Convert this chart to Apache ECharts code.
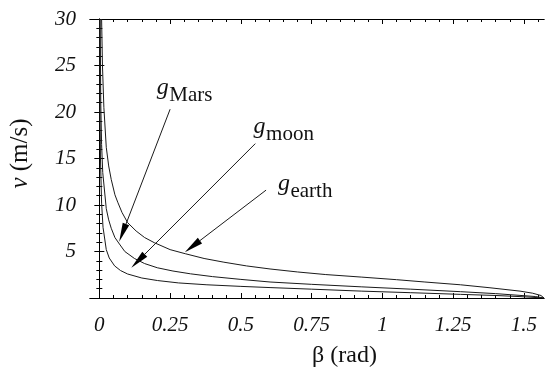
<!DOCTYPE html>
<html>
<head>
<meta charset="utf-8">
<script src="https://cdn.jsdelivr.net/npm/echarts@6/dist/echarts.min.js"></script>
<style>
  html, body { margin: 0; padding: 0; background: #fff; }
  #chart { width: 547px; height: 373px; }
</style>
</head>
<body>
<div id="chart"></div>
<script>
// curves: [beta (rad), v (m/s)]
const gEarth = [
  [0.008, 30], [0.011, 25], [0.016, 20.5], [0.0245, 16.2], [0.033, 14.2], [0.042, 12.75],
  [0.055, 11.1], [0.065, 10.3], [0.08, 9.2], [0.1, 8.1], [0.13, 7.2], [0.16, 6.5],
  [0.194, 5.95], [0.25, 5.2], [0.305, 4.75], [0.37, 4.25], [0.44, 3.85], [0.52, 3.45],
  [0.603, 3.12], [0.7, 2.8], [0.8, 2.52], [0.925, 2.25], [1.05, 1.97], [1.15, 1.72],
  [1.276, 1.42], [1.38, 1.1], [1.486, 0.74], [1.53, 0.52], [1.56, 0.27], [1.5708, 0]
];
const gMars = [
  [0.003, 30], [0.005, 21], [0.008, 16.5], [0.012, 13.5], [0.0245, 9.6], [0.033, 8.4],
  [0.042, 7.5], [0.055, 6.5], [0.071, 5.8], [0.09, 5.0], [0.124, 4.25], [0.16, 3.7],
  [0.205, 3.25], [0.26, 2.9], [0.322, 2.6], [0.4, 2.3], [0.5, 2.0], [0.603, 1.72],
  [0.75, 1.47], [0.925, 1.2], [1.1, 0.95], [1.276, 0.68], [1.4, 0.47], [1.486, 0.28],
  [1.54, 0.16], [1.5708, 0]
];
const gMoon = [
  [0.0012, 30], [0.002, 21], [0.004, 15], [0.008, 10.2], [0.013, 7.6], [0.0245, 5.2],
  [0.035, 4.3], [0.054, 3.45], [0.075, 2.95], [0.1, 2.58], [0.15, 2.15], [0.205, 1.88],
  [0.28, 1.62], [0.38, 1.42], [0.5, 1.25], [0.603, 1.12], [0.75, 0.95], [0.925, 0.74],
  [1.1, 0.57], [1.276, 0.39], [1.4, 0.27], [1.486, 0.15], [1.5708, 0]
];

// axis ticks
const xMajor = [0, 0.25, 0.5, 0.75, 1, 1.25, 1.5];
const xMinor = [];
for (let k = 0; k <= 31; k++) { if (k % 5 !== 0) xMinor.push(+(k * 0.05).toFixed(2)); }

// annotations (data coords)
const labelSub = ['Mars', 'moon', 'earth'];
const labelAt = [[0.203, 22.65], [0.545, 18.4], [0.631, 12.3]];
const arrowFrom = [[0.25, 20.3], [0.551, 16.6], [0.589, 11.6]];
const arrowTo = [[0.070, 6.04], [0.113, 3.26], [0.302, 4.93]];

const serif = "'Liberation Serif', 'DejaVu Serif', serif";
const xMin = -0.033, xMax = 1.5708;

const chart = echarts.init(document.getElementById('chart'));

function xAx(pos, ticks, len, extra) {
  return Object.assign({
    type: 'value', position: pos, min: xMin, max: xMax,
    axisLine: { show: true, lineStyle: { color: '#000', width: 1 } },
    axisTick: { show: true, inside: true, length: len, customValues: ticks, lineStyle: { color: '#000' } },
    axisLabel: { show: false },
    splitLine: { show: false }
  }, extra || {});
}
function yAx(pos, showLabel) {
  return {
    type: 'value', position: pos, min: 0, max: 30, interval: 5,
    axisLine: { show: true, lineStyle: { color: '#000', width: 1 } },
    axisTick: { show: true, inside: true, length: 5, lineStyle: { color: '#000' } },
    minorTick: { show: true, splitNumber: 5, length: 3, lineStyle: { color: '#000' } },
    axisLabel: {
      show: showLabel, margin: 14, fontFamily: serif, fontStyle: 'italic', fontSize: 21, color: '#111',
      formatter: v => (v === 0 ? '' : String(v))
    },
    splitLine: { show: false },
    name: showLabel ? '{i|v} (m/s)' : '',
    nameLocation: 'middle', nameGap: 57, nameRotate: 90,
    nameTextStyle: {
      fontFamily: serif, fontSize: 25, color: '#111', padding: [0, 0, 0, 10],
      rich: { i: { fontFamily: serif, fontSize: 25, fontStyle: 'italic', color: '#111' } }
    }
  };
}

const lineStyle = { color: '#1a1a1a', width: 1 };

const option = {
  animation: false,
  grid: { left: 87, right: 3, top: 19, bottom: 67 },
  xAxis: [
    xAx('bottom', xMajor, 5, {
      axisLabel: { show: true, customValues: xMajor, margin: 17, fontFamily: serif, fontStyle: 'italic', fontSize: 21, color: '#111' },
      name: 'β (rad)', nameLocation: 'middle', nameGap: 46,
      nameTextStyle: { fontFamily: serif, fontSize: 24, color: '#111', padding: [0, 0, 0, 55] }
    }),
    xAx('bottom', xMinor, 3),
    xAx('top', xMajor, 5),
    xAx('top', xMinor, 3)
  ],
  yAxis: [yAx('left', true), yAx('right', false)],
  series: [
    { name: 'earth', type: 'line', data: gEarth, showSymbol: false, lineStyle: lineStyle, xAxisIndex: 0, yAxisIndex: 0 },
    { name: 'Mars', type: 'line', data: gMars, showSymbol: false, lineStyle: lineStyle, xAxisIndex: 0, yAxisIndex: 0 },
    { name: 'moon', type: 'line', data: gMoon, showSymbol: false, lineStyle: lineStyle, xAxisIndex: 0, yAxisIndex: 0 },
    {
      type: 'custom', xAxisIndex: 0, yAxisIndex: 0, silent: true,
      data: arrowTo,
      renderItem: function (params, api) {
        const i = params.dataIndex;
        const s = api.coord(arrowFrom[i]);
        const t = api.coord(arrowTo[i]);
        const dx = t[0] - s[0], dy = t[1] - s[1];
        const L = Math.sqrt(dx * dx + dy * dy);
        const ux = dx / L, uy = dy / L;
        const head = 19, half = 3.5;
        const b = [t[0] - ux * head, t[1] - uy * head];
        const lp = api.coord(labelAt[i]);
        return {
          type: 'group',
          children: [
            { type: 'line', shape: { x1: s[0], y1: s[1], x2: b[0], y2: b[1] }, style: { stroke: '#1a1a1a', lineWidth: 1 } },
            { type: 'polygon', shape: { points: [t, [b[0] - uy * half, b[1] + ux * half], [b[0] + uy * half, b[1] - ux * half]] }, style: { fill: '#000' } },
            { type: 'text', x: lp[0], y: lp[1], style: { text: 'g', fontFamily: serif, fontStyle: 'italic', fontSize: 24, fill: '#111', align: 'left', verticalAlign: 'middle' } },
            { type: 'text', x: lp[0] + 12.5, y: lp[1] + 8, style: { text: labelSub[i], fontFamily: serif, fontSize: 21, fill: '#111', align: 'left', verticalAlign: 'middle' } }
          ]
        };
      }
    }
  ]
};

chart.setOption(option);
</script>
</body>
</html>
